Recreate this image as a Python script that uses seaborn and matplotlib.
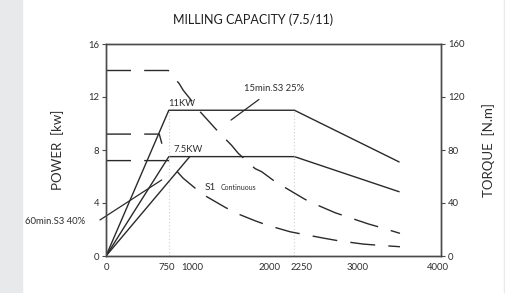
import numpy as np
import pandas as pd
import matplotlib
matplotlib.use("Agg")
import matplotlib.pyplot as plt
import matplotlib.transforms as mtrans
import seaborn as sns

# power curves (rpm / kW)
rpm_11kw = [0, 750, 2250, 3500]
kw_11kw = [0, 11.0, 11.0, 7.1]
rpm_75kw = [0, 750, 2250, 3500]
kw_75kw = [0, 7.5, 7.5, 4.85]
rpm_ramp = [0, 1000]
kw_ramp = [0, 7.5]

# torque curves (rpm / N.m)
rpm_t25 = [0, 745, 875, 923, 1063, 1122, 1340, 1500, 1579, 1779, 1859, 2037,
           2156, 2375, 2495, 2734, 2873, 3132, 3271, 3510]
nm_t25 = [140, 140, 130, 125, 114, 109, 93.8, 83.5, 77.5, 66, 63.6, 55.3,
          51, 42.8, 39.2, 32.7, 29.7, 24.2, 21.7, 17.1]
rpm_t40 = [0, 636, 690]
nm_t40 = [92, 92, 79.5]
rpm_s1 = [0, 745, 851, 923, 1101, 1202, 1421, 1540, 1779, 1919, 2197, 2335,
          2614, 2774, 3072, 3212, 3510]
nm_s1 = [72, 72, 63.6, 58.6, 49.3, 44.8, 36.8, 32.7, 26.6, 23.4, 18.3, 16.6,
         13.3, 11.5, 9.0, 8.3, 7.0]

major_x = [0, 1000, 2000, 3000, 4000]
minor_x = [750, 2250]
left_ticks = [0, 4, 8, 12, 16]
right_ticks = [0, 40, 80, 120, 160]

sns.set_theme(style="white")
plt.rcParams["font.family"] = ["Lato", "DejaVu Sans"]

ink = "#2a2a2a"
txt = "#2e2e2e"
spine = "#4a4a4a"
dash = (0, (18, 9.5))

fig = plt.figure(figsize=(5.06, 2.93), dpi=100)
fig.patch.set_facecolor("white")
# grey strips at the edges
fig.add_artist(plt.Rectangle((0, 0), 22 / 506, 1, transform=fig.transFigure,
                             color="#e8e9eb", zorder=-1))
fig.add_artist(plt.Rectangle((504 / 506, 0), 2 / 506, 1, transform=fig.transFigure,
                             color="#e8e9eb", zorder=-1))

ax = fig.add_axes([106 / 506, 37 / 293, 335 / 506, 212 / 293])
ax2 = ax.twinx()

for xs, ys in [(rpm_11kw, kw_11kw), (rpm_75kw, kw_75kw), (rpm_ramp, kw_ramp)]:
    sns.lineplot(x=xs, y=ys, ax=ax, color=ink, linewidth=1.0, errorbar=None)

for xs, ys in [(rpm_t25, nm_t25), (rpm_t40, nm_t40), (rpm_s1, nm_s1)]:
    sns.lineplot(x=xs, y=ys, ax=ax2, color=ink, linewidth=1.0, errorbar=None,
                 linestyle=dash)

# dotted guides
for xv in minor_x:
    ax.plot([xv, xv], [0, 11], color="#cfcfcf", linewidth=0.8, linestyle=(0, (1, 2)))

ax.set_xlim(0, 4000)
ax.set_ylim(0, 16)
ax2.set_ylim(0, 160)

ax.set_xticks(major_x)
ax.set_xticks(minor_x, minor=True)
ax.set_xticklabels([str(v) for v in major_x])
ax.set_xticklabels([str(v) for v in minor_x], minor=True)
ax.set_yticks(left_ticks)
ax2.set_yticks(right_ticks)

ax.tick_params(axis="x", which="major", direction="inout", length=4, width=0.8,
               colors=spine, labelcolor=txt, labelsize=6.8, pad=3)
ax.tick_params(axis="x", which="minor", length=0, labelcolor=txt, labelsize=6.8, pad=5)
ax.tick_params(axis="y", direction="out", length=3, width=0.8, colors=spine,
               labelcolor=txt, labelsize=6.8, pad=2)
ax2.tick_params(axis="y", direction="out", length=3, width=0.8, colors=spine,
                labelcolor=txt, labelsize=6.8, pad=2)

# nudge crowded x labels apart like the original
def nudge(lbl, px):
    lbl.set_transform(lbl.get_transform() +
                      mtrans.ScaledTranslation(px / 100, 0, fig.dpi_scale_trans))

for lbl in ax.get_xticklabels():
    if lbl.get_text() == "2000":
        nudge(lbl, -4)
    elif lbl.get_text() == "1000":
        nudge(lbl, 2)
    elif lbl.get_text() == "4000":
        nudge(lbl, -3)
for lbl in ax.get_xticklabels(minor=True):
    if lbl.get_text() == "2250":
        nudge(lbl, 7)
    elif lbl.get_text() == "750":
        nudge(lbl, -2)

for a in (ax, ax2):
    for s in a.spines.values():
        s.set_color(spine)
        s.set_linewidth(1.0)
    a.grid(False)

ax.set_ylabel("POWER  [kw]", fontsize=9.5, color=txt, labelpad=17)
ax2.set_ylabel("TORQUE  [N.m]", fontsize=9.5, color=txt, labelpad=13)
ax.set_xlabel("")

fig.text(253 / 506, 1 - 20 / 293, "MILLING CAPACITY (7.5/11)", ha="center",
         va="center", fontsize=9, color="#1e1e1e")

ax.text(740, 11.15, "11KW", fontsize=6.8, color=txt, ha="left", va="bottom")
ax.text(810, 7.7, "7.5KW", fontsize=6.8, color=txt, ha="left", va="bottom")
ax.text(1180, 5.18, "S1", fontsize=7.2, color=txt, ha="left", va="center")
ax.text(1370, 5.15, "Continuous", fontsize=5, color=txt, ha="left", va="center")

ax.annotate("15min.S3 25%", xy=(1493, 10.26), xytext=(2006, 12.65),
            fontsize=6.8, color=txt, ha="center", va="center",
            arrowprops=dict(arrowstyle="-", color=ink, lw=0.9, shrinkA=4, shrinkB=0))
ax.annotate("", xy=(665, 5.74), xytext=(-72, 2.72), annotation_clip=False,
            arrowprops=dict(arrowstyle="-", color=ink, lw=0.9, shrinkA=0, shrinkB=0))
ax.text(-250, 2.64, "60min.S3 40%", fontsize=6.8, color=txt, ha="right", va="center",
        clip_on=False)

fig.savefig("out.png", dpi=100)
